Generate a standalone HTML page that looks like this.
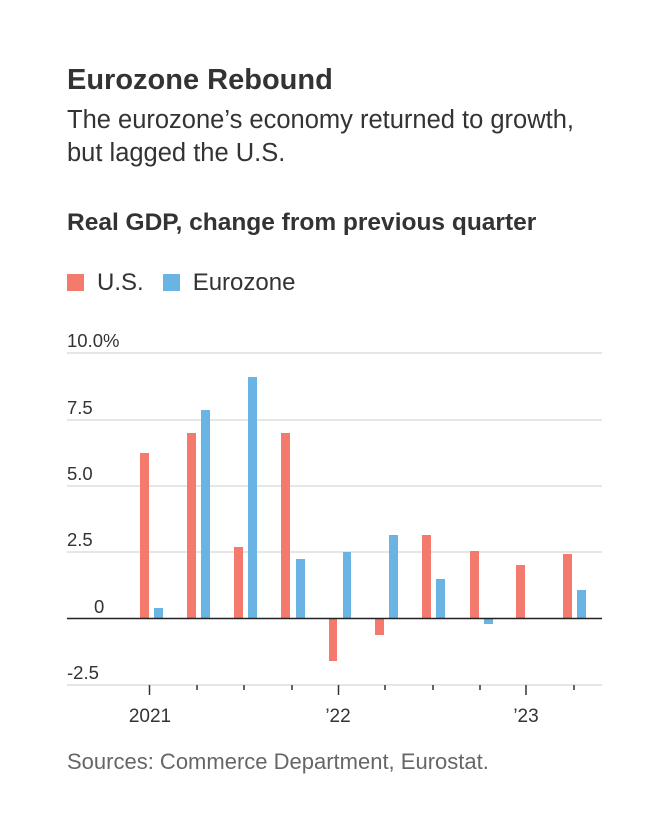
<!DOCTYPE html>
<html><head><meta charset="utf-8"><style>
body{margin:0;background:#fff;width:651px;height:821px;overflow:hidden;font-family:"Liberation Sans",sans-serif;color:#222}
.t{position:absolute;left:67px;white-space:nowrap}
</style></head><body>
<div class="t" style="top:64px;font-size:29px;font-weight:bold;color:#333">Eurozone Rebound</div>
<div class="t" style="top:104px;font-size:25.5px;line-height:33px;color:#333">The eurozone’s economy returned to growth,<br>but lagged the U.S.</div>
<div class="t" style="top:209px;font-size:24.5px;font-weight:bold;color:#333">Real GDP, change from previous quarter</div>
<div class="t" style="top:269px;font-size:24px;color:#333"><span style="display:inline-block;width:17px;height:17px;background:#f47a6e;vertical-align:-1px;margin-right:13px"></span>U.S.<span style="display:inline-block;width:17px;height:17px;background:#6ab4e3;vertical-align:-1px;margin:0 13px 0 19px"></span>Eurozone</div>
<svg width="651" height="821" style="position:absolute;left:0;top:0">
<g stroke="#ddd" stroke-width="1.5">
<line x1="67" x2="602" y1="353" y2="353"/><line x1="67" x2="602" y1="420" y2="420"/><line x1="67" x2="602" y1="486" y2="486"/><line x1="67" x2="602" y1="552" y2="552"/><line x1="67" x2="602" y1="685" y2="685"/>
</g>
<g font-size="18.5" fill="#333" font-family="Liberation Sans">
<text x="67" y="347">10.0%</text><text x="67" y="414">7.5</text><text x="67" y="480">5.0</text><text x="67" y="546">2.5</text><text x="94" y="613">0</text><text x="67" y="679">-2.5</text>
<text x="150" y="722" text-anchor="middle" font-size="19">2021</text><text x="338" y="722" text-anchor="middle" font-size="19">’22</text><text x="526" y="722" text-anchor="middle" font-size="19">’23</text>
</g>
<g fill="#f47a6e">
<rect x="140" y="453" width="9" height="165"/><rect x="187" y="433" width="9" height="185"/><rect x="234" y="547" width="9" height="71"/><rect x="281" y="433" width="9" height="185"/><rect x="329" y="619" width="8" height="42"/><rect x="375" y="619" width="9" height="16"/><rect x="422" y="535" width="9" height="83"/><rect x="470" y="551" width="9" height="67"/><rect x="516" y="565" width="9" height="53"/><rect x="563" y="554" width="9" height="64"/>
</g>
<g fill="#6ab4e3">
<rect x="154" y="608" width="9" height="10"/><rect x="201" y="410" width="9" height="208"/><rect x="248" y="377" width="9" height="241"/><rect x="296" y="559" width="9" height="59"/><rect x="343" y="552" width="8" height="66"/><rect x="389" y="535" width="9" height="83"/><rect x="436" y="579" width="9" height="39"/><rect x="484" y="619" width="9" height="5"/><rect x="577" y="590" width="9" height="28"/>
</g>
<line x1="67" x2="602" y1="618.5" y2="618.5" stroke="#222" stroke-width="1.5"/>
<g stroke="#333" stroke-width="1.5">
<line x1="149.5" x2="149.5" y1="685" y2="695"/><line x1="197" x2="197" y1="685" y2="690"/><line x1="244" x2="244" y1="685" y2="690"/><line x1="292" x2="292" y1="685" y2="690"/><line x1="338.5" x2="338.5" y1="685" y2="695"/><line x1="385" x2="385" y1="685" y2="690"/><line x1="433" x2="433" y1="685" y2="690"/><line x1="480" x2="480" y1="685" y2="690"/><line x1="526" x2="526" y1="685" y2="695"/><line x1="574" x2="574" y1="685" y2="690"/>
</g>
</svg>
<div class="t" style="top:749px;font-size:22px;color:#666">Sources: Commerce Department, Eurostat.</div>
</body></html>
